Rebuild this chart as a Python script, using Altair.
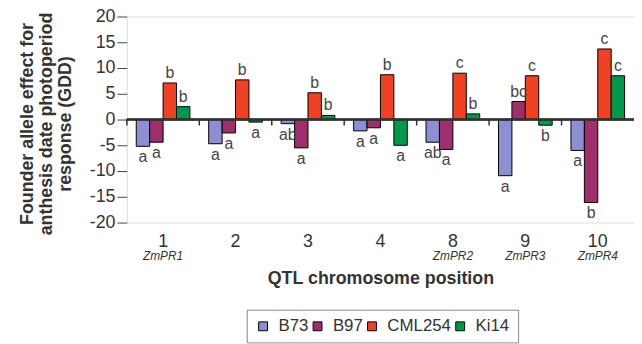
import altair as alt
import pandas as pd

positions = ["1", "2", "3", "4", "8", "9", "10"]
qtl_names = ["ZmPR1", "", "", "", "ZmPR2", "ZmPR3", "ZmPR4"]
founders = ["B73", "B97", "CML254", "Ki14"]
b73 = [-5.2, -4.7, -0.8, -2.2, -4.4, -10.9, -6.0]
b97 = [-4.4, -2.6, -5.5, -1.6, -5.8, 3.5, -16.1]
cml254 = [7.1, 7.7, 5.2, 8.7, 9.0, 8.5, 13.7]
ki14 = [2.5, -0.5, 0.8, -5.0, 1.1, -1.1, 8.5]
letters_b73 = ["a", "a", "ab", "a", "ab", "a", "a"]
letters_b97 = ["a", "a", "a", "a", "a", "bc", "b"]
letters_cml254 = ["b", "b", "b", "b", "c", "c", "c"]
letters_ki14 = ["b", "a", "b", "a", "b", "b", "c"]
colors = ["#8c8fd1", "#9e2f6b", "#ef4123", "#00994c"]

series = [b73, b97, cml254, ki14]
letters = [letters_b73, letters_b97, letters_cml254, letters_ki14]
rows = []
for f, vals, lets in zip(founders, series, letters):
    for p, v, l in zip(positions, vals, lets):
        rows.append({"pos": p, "founder": f, "value": v, "letter": l})
df = pd.DataFrame(rows)
sub_df = pd.DataFrame({"pos": positions, "name": qtl_names})

FONT = "Liberation Sans"
yscale = alt.Scale(domain=[-20, 20], nice=False)
xscale = alt.Scale(paddingInner=0, paddingOuter=0)

x_axis = alt.Axis(
    title="QTL chromosome position", labelAngle=0, ticks=False, domain=False,
    labelFontSize=18, labelPadding=10, labelColor="#333", labelFont=FONT,
    titleFontSize=18, titleFontWeight="bold", titleFont=FONT, titleColor="#333",
    titlePadding=20,
)
y_axis = alt.Axis(
    values=list(range(-20, 25, 5)),
    labelExpr="datum.value + ''", labelOverlap=False,
    title=["Founder allele effect for", "anthesis date photoperiod", "response (GDD)"],
    titleFontSize=18, titleFontWeight="bold", titleFont=FONT, titleColor="#333",
    titleLineHeight=19, titlePadding=15, titleLimit=400, titleY=108,
    labelFontSize=18, labelColor="#333", labelFont=FONT, labelPadding=2,
    tickSize=10, tickColor="#444", domain=False, grid=False,
)

x_enc = alt.X("pos:N", sort=positions, scale=xscale, axis=x_axis)
xo_enc = alt.XOffset("founder:N", sort=founders,
                     scale=alt.Scale(paddingInner=0, paddingOuter=0.7))
y_enc = alt.Y("value:Q", scale=yscale, axis=y_axis)
y_zero = alt.YDatum(0, scale=yscale, axis=y_axis)
color_enc = alt.Color(
    "founder:N", sort=founders,
    scale=alt.Scale(domain=founders, range=colors),
    legend=alt.Legend(
        title=None, orient="none", legendX=121, legendY=296, direction="horizontal",
        strokeColor="#888", padding=8, fillColor="white",
        symbolType="square", symbolSize=80, symbolStrokeColor="black",
        symbolStrokeWidth=1, labelFontSize=17, labelFont=FONT, labelColor="#333",
        columnPadding=0, labelOffset=7,
    ),
)

base = alt.Chart(df)
bars = base.mark_bar(stroke="black", strokeWidth=1).encode(
    x=x_enc, xOffset=xo_enc, y=y_enc, color=color_enc
)
text_pos = base.transform_filter("datum.value >= 0").mark_text(
    baseline="bottom", dy=-2, fontSize=16, font=FONT, color="#444"
).encode(x=x_enc, xOffset=xo_enc, y=y_enc, text="letter:N")
text_neg = base.transform_filter("datum.value < 0").mark_text(
    baseline="top", dy=3, fontSize=16, font=FONT, color="#444"
).encode(x=x_enc, xOffset=xo_enc, y=y_enc, text="letter:N")

zero = alt.Chart(sub_df).mark_rule(color="#333", strokeWidth=1.5).encode(y=y_zero)
ticks = alt.Chart(sub_df).mark_rule(color="#333", strokeWidth=1.5).encode(
    x=alt.X("pos:N", sort=positions, bandPosition=0, scale=xscale, axis=x_axis),
    y=y_zero, y2=alt.value(110)
)
subs = alt.Chart(sub_df).mark_text(
    fontSize=12, fontStyle="italic", font=FONT, color="#333", baseline="alphabetic"
).encode(x=x_enc, y=alt.value(246), text="name:N")

chart = alt.layer(bars, zero, ticks, text_pos, text_neg, subs).properties(
    width=512, height=208,
    autosize=alt.AutoSizeParams(type="none"),
    padding={"left": 120, "top": 7, "right": 0, "bottom": 121},
).configure_view(stroke="#555", strokeWidth=2).configure(background="white")

chart.save("out.html", embed_options={"renderer": "svg", "actions": False})
